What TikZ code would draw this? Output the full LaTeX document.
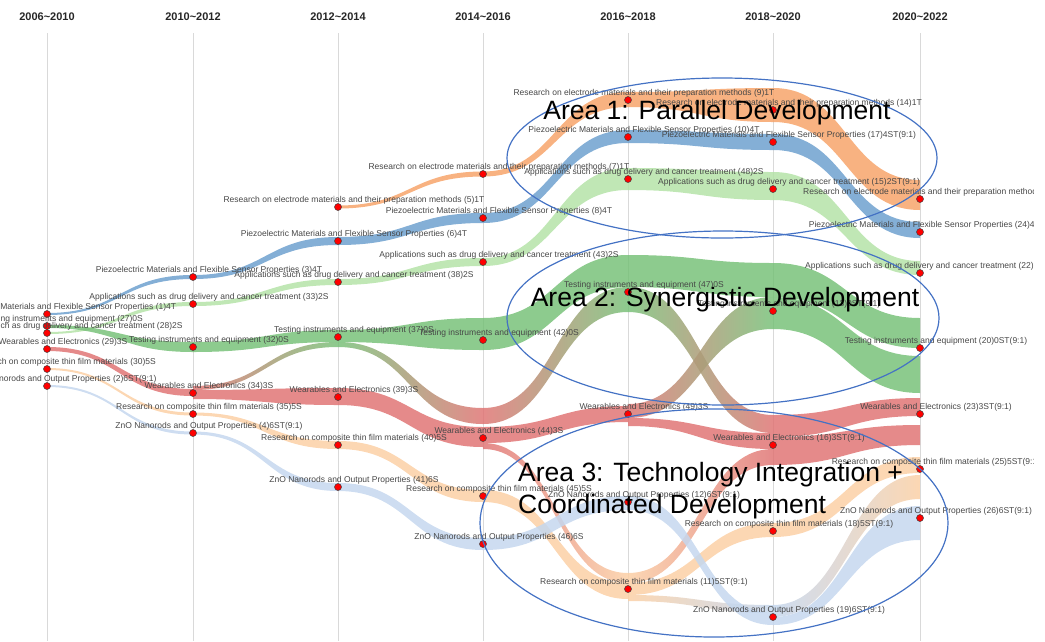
\documentclass[tikz,border=0pt]{standalone}
\usepackage{fontspec}
\setmainfont{Liberation Sans}
\usetikzlibrary{calc}
\pgfdeclarelayer{bg}
\pgfsetlayers{bg,main}

\definecolor{ce}{RGB}{247,165,107}
\definecolor{cp}{RGB}{111,161,207}
\definecolor{ca}{RGB}{181,227,168}
\definecolor{ct}{RGB}{121,194,122}
\definecolor{cw}{RGB}{224,118,118}
\definecolor{cc}{RGB}{251,208,166}
\definecolor{cz}{RGB}{197,215,238}
\definecolor{ringblue}{RGB}{68,114,196}

% red dot of a topic with its label
\newcommand{\topic}[4]{%
  \node[dot] (#1) at (#2,#3) {};
  \node[lab] (#1-l) at ([shift={(16pt,7pt)}]#1.center) {#4};}

% flow band: from node, top, bottom offsets, to node, top, bottom offsets, style
\newcommand{\band}[7]{%
  \path[#7] let \p1=(#1.center), \p2=(#4.center), \n1={(\x1+\x2)/2} in
    (\x1,{\y1-(#2)}) .. controls (\n1,{\y1-(#2)}) and (\n1,{\y2-(#5)}) .. (\x2,{\y2-(#5)})
    -- (\x2,{\y2-(#6)}) .. controls (\n1,{\y2-(#6)}) and (\n1,{\y1-(#3)}) .. (\x1,{\y1-(#3)}) -- cycle;}

\begin{document}
\begin{tikzpicture}[x=1pt, y=-1pt,
  dot/.style={circle, fill=red, draw=black!75, line width=0.5pt, minimum size=7pt, inner sep=0pt},
  lab/.style={font=\fontsize{8.5}{10}\selectfont, text=black!72, inner sep=0pt},
  head/.style={font=\fontsize{11}{12}\selectfont\bfseries, text=black!85},
  grid/.style={draw=black!15, line width=0.8pt},
  band/.style={fill opacity=0.85},
  ring/.style={draw=ringblue, line width=1.2pt},
  areatext/.style={font=\fontsize{26.5}{32}\selectfont, inner sep=0pt}]

  \useasboundingbox (0,0) rectangle (1045,641);
  \clip (0,0) rectangle (1033,641);

  % Periods and their guide lines
  \foreach \x/\yr [count=\i] in {47/2006\textasciitilde2010, 193/2010\textasciitilde2012,
      338/2012\textasciitilde2014, 483/2014\textasciitilde2016, 628/2016\textasciitilde2018,
      773/2018\textasciitilde2020, 920/2020\textasciitilde2022} {
    \node[head] (h\i) at (\x,17) {\yr};
    \begin{pgfonlayer}{bg}
      \draw[grid] (\x,33) -- (\x,641);
    \end{pgfonlayer}
  }

  % 2006~2010
  \topic{n1}{47}{314}{Piezoelectric Materials and Flexible Sensor Properties (1)4T}
  \topic{n27}{47}{326}{Testing instruments and equipment (27)0S}
  \topic{n28}{47}{333}{Applications such as drug delivery and cancer treatment (28)2S}
  \topic{n29}{47}{349}{Wearables and Electronics (29)3S}
  \topic{n30}{47}{369}{Research on composite thin film materials (30)5S}
  \topic{n2}{47}{386}{ZnO Nanorods and Output Properties (2)6ST(9:1)}

  % 2010~2012
  \topic{n3}{193}{277}{Piezoelectric Materials and Flexible Sensor Properties (3)4T}
  \topic{n33}{193}{304}{Applications such as drug delivery and cancer treatment (33)2S}
  \topic{n32}{193}{347}{Testing instruments and equipment (32)0S}
  \topic{n34}{193}{393}{Wearables and Electronics (34)3S}
  \topic{n35}{193}{414}{Research on composite thin film materials (35)5S}
  \topic{n4}{193}{433}{ZnO Nanorods and Output Properties (4)6ST(9:1)}

  % 2012~2014
  \topic{n5}{338}{207}{Research on electrode materials and their preparation methods (5)1T}
  \topic{n6}{338}{241}{Piezoelectric Materials and Flexible Sensor Properties (6)4T}
  \topic{n38}{338}{282}{Applications such as drug delivery and cancer treatment (38)2S}
  \topic{n37}{338}{337}{Testing instruments and equipment (37)0S}
  \topic{n39}{338}{397}{Wearables and Electronics (39)3S}
  \topic{n40}{338}{445}{Research on composite thin film materials (40)5S}
  \topic{n41}{338}{487}{ZnO Nanorods and Output Properties (41)6S}

  % 2014~2016
  \topic{n7}{483}{174}{Research on electrode materials and their preparation methods (7)1T}
  \topic{n8}{483}{218}{Piezoelectric Materials and Flexible Sensor Properties (8)4T}
  \topic{n43}{483}{262}{Applications such as drug delivery and cancer treatment (43)2S}
  \topic{n42}{483}{340}{Testing instruments and equipment (42)0S}
  \topic{n44}{483}{438}{Wearables and Electronics (44)3S}
  \topic{n45}{483}{496}{Research on composite thin film materials (45)5S}
  \topic{n46}{483}{544}{ZnO Nanorods and Output Properties (46)6S}

  % 2016~2018
  \topic{n9}{628}{100}{Research on electrode materials and their preparation methods (9)1T}
  \topic{n10}{628}{137}{Piezoelectric Materials and Flexible Sensor Properties (10)4T}
  \topic{n48}{628}{179}{Applications such as drug delivery and cancer treatment (48)2S}
  \topic{n47}{628}{292}{Testing instruments and equipment (47)0S}
  \topic{n49}{628}{414}{Wearables and Electronics (49)3S}
  \topic{n12}{628}{502}{ZnO Nanorods and Output Properties (12)6ST(9:1)}
  \topic{n11}{628}{589}{Research on composite thin film materials (11)5ST(9:1)}

  % 2018~2020
  \topic{n14}{773}{110}{Research on electrode materials and their preparation methods (14)1T}
  \topic{n17}{773}{142}{Piezoelectric Materials and Flexible Sensor Properties (17)4ST(9:1)}
  \topic{n15}{773}{189}{Applications such as drug delivery and cancer treatment (15)2ST(9:1)}
  \topic{n13}{773}{311}{Testing instruments and equipment (13)0ST(9:1)}
  \topic{n16}{773}{445}{Wearables and Electronics (16)3ST(9:1)}
  \topic{n18}{773}{531}{Research on composite thin film materials (18)5ST(9:1)}
  \topic{n19}{773}{617}{ZnO Nanorods and Output Properties (19)6ST(9:1)}

  % 2020~2022
  \topic{n21}{920}{199}{Research on electrode materials and their preparation methods (21)1T}
  \topic{n24}{920}{232}{Piezoelectric Materials and Flexible Sensor Properties (24)4ST(9:1)}
  \topic{n22}{920}{273}{Applications such as drug delivery and cancer treatment (22)2ST(9:1)}
  \topic{n20}{920}{348}{Testing instruments and equipment (20)0ST(9:1)}
  \topic{n23}{920}{414}{Wearables and Electronics (23)3ST(9:1)}
  \topic{n25}{920}{469}{Research on composite thin film materials (25)5ST(9:1)}
  \topic{n26}{920}{518}{ZnO Nanorods and Output Properties (26)6ST(9:1)}

  \begin{pgfonlayer}{bg}
    % 2006~2010 -> 2010~2012
    \band{n1}{-1}{1}{n3}{-2}{2}{band, fill=cp}
    \band{n28}{-1}{1}{n33}{-2}{2}{band, fill=ca}
    \band{n27}{-1}{2}{n32}{-5}{5}{band, fill=ct}
    \band{n29}{-2}{2}{n34}{-4}{3}{band, fill=cw}
    \band{n30}{-1}{1}{n35}{-1.5}{1.5}{band, fill=cc}
    \band{n2}{-1}{1}{n4}{-1.5}{1.5}{band, fill=cz}

    % 2010~2012 -> 2012~2014
    \band{n3}{-2}{2}{n6}{-4}{4}{band, fill=cp}
    \band{n33}{-2}{2}{n38}{-3}{3}{band, fill=ca}
    \band{n32}{-5}{5}{n37}{-7}{5}{band, fill=ct}
    \band{n34}{-3}{6}{n39}{-9}{8}{band, fill=cw}
    \band{n34}{-7}{-3}{n37}{5}{10}{band, left color=cw, right color=ct}
    \band{n35}{-1.5}{1.5}{n40}{-4}{4}{band, fill=cc}
    \band{n4}{-1.5}{1.5}{n41}{-4}{4}{band, fill=cz}

    % 2012~2014 -> 2014~2016
    \band{n5}{-1.5}{1.5}{n7}{-2.5}{2.5}{band, fill=ce}
    \band{n6}{-4}{4}{n8}{-5}{5}{band, fill=cp}
    \band{n38}{-3}{3}{n43}{-4}{4}{band, fill=ca}
    \band{n37}{-7}{5}{n42}{-22}{10}{band, fill=ct}
    \band{n37}{5}{10}{n44}{-30}{-14}{band, left color=ct, right color=cw}
    \band{n39}{-9}{8}{n44}{-11}{9}{band, fill=cw}
    \band{n40}{-4}{4}{n45}{-6}{6}{band, fill=cc}
    \band{n41}{-4}{4}{n46}{-6}{6}{band, fill=cz}

    % 2014~2016 -> 2016~2018
    \band{n7}{-2.5}{2.5}{n9}{-8}{7}{band, fill=ce}
    \band{n8}{-5}{5}{n10}{-7}{6}{band, fill=cp}
    \band{n43}{-4}{4}{n48}{-11}{11}{band, fill=ca}
    \band{n42}{-22}{10}{n47}{-37}{-5}{band, fill=ct}
    \band{n44}{-30}{-14}{n47}{-5}{20}{band, left color=cw, right color=ct}
    \band{n44}{-11}{5}{n49}{-8}{8}{band, fill=cw}
    \band{n44}{5}{11}{n11}{-16}{-6}{band, left color=cw, right color=cc}
    \band{n45}{-6}{6}{n11}{-6}{10}{band, fill=cc}
    \band{n46}{-6}{6}{n12}{-6}{8}{band, fill=cz}

    % 2016~2018 -> 2018~2020
    \band{n9}{-8}{7}{n14}{-22}{12}{band, fill=ce}
    \band{n10}{-7}{6}{n17}{-8}{8}{band, fill=cp}
    \band{n48}{-11}{11}{n15}{-17}{11}{band, fill=ca}
    \band{n47}{-37}{-5}{n13}{-48}{-14}{band, fill=ct}
    \band{n47}{-5}{20}{n16}{-30}{-12}{band, left color=ct, right color=cw}
    \band{n49}{-10}{4}{n13}{-14}{18}{band, left color=cw, right color=ct}
    \band{n49}{4}{12}{n16}{-12}{4}{band, fill=cw}
    \band{n11}{-16}{-6}{n16}{4}{20}{band, left color=cc, right color=cw}
    \band{n11}{-6}{6}{n18}{-8}{6}{band, fill=cc}
    \band{n11}{6}{12}{n19}{-12}{-4}{band, left color=cc, right color=cz}
    \band{n12}{-6}{8}{n19}{-4}{8}{band, fill=cz}

    % 2018~2020 -> 2020~2022
    \band{n14}{-22}{12}{n21}{-19}{11}{band, fill=ce}
    \band{n17}{-8}{8}{n24}{-10}{6}{band, fill=cp}
    \band{n15}{-17}{11}{n22}{-12}{2}{band, fill=ca}
    \band{n13}{-48}{-14}{n20}{-30}{0}{band, fill=ct}
    \band{n13}{-14}{18}{n20}{8}{45}{band, fill=ct}
    \band{n16}{-30}{-8}{n23}{-16}{2}{band, fill=cw}
    \band{n16}{-8}{20}{n23}{11}{31}{band, fill=cw}
    \band{n18}{-8}{6}{n25}{-12}{4}{band, fill=cc}
    \band{n19}{-12}{0}{n25}{6}{30}{band, left color=cz, right color=cc}
    \band{n19}{0}{8}{n26}{-12}{22}{band, fill=cz}
  \end{pgfonlayer}

  % Areas
  \draw[ring] (722,158) ellipse [x radius=215pt, y radius=80pt];
  \draw[ring] (723,318) ellipse [x radius=216pt, y radius=87pt];
  \draw[ring] (714,523) ellipse [x radius=234pt, y radius=114pt];
  \node[areatext, anchor=base] (a1) at (717,119) {Area 1: Parallel Development};
  \node[areatext, anchor=base] (a2) at (725,306) {Area 2: Synergistic Development};
  \node[areatext, anchor=base west] (a3) at (518,481) {Area 3: Technology Integration +};
  \node[areatext, anchor=base west] (a3b) at (518,513) {Coordinated Development};

\end{tikzpicture}
\end{document}
